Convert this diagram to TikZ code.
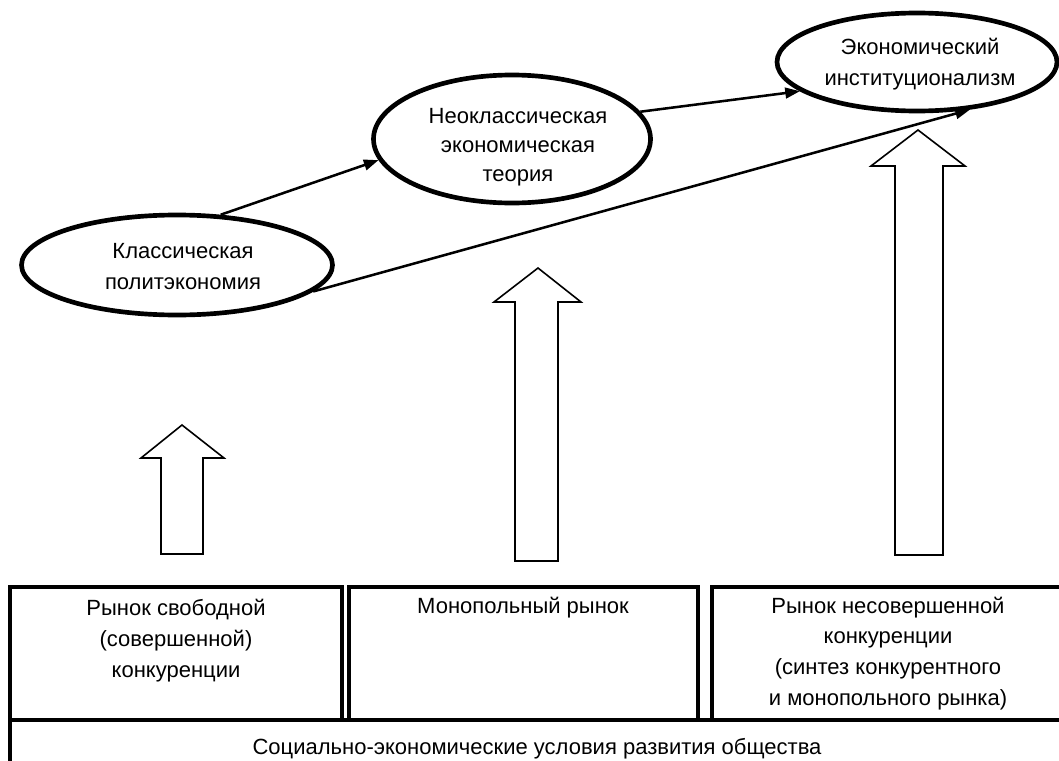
\documentclass[tikz,border=0pt]{standalone}
\usepackage{fontspec}
\setmainfont{Liberation Sans}
\usetikzlibrary{shapes.geometric,arrows.meta}
\begin{document}
\begin{tikzpicture}[x=0.75pt,y=-0.75pt,
  txtfont/.style={font=\fontsize{16.5}{23}\selectfont},
  oval/.style={draw, ellipse, line width=3.5pt, inner sep=0pt},
  ovaltext/.style={align=center, txtfont, anchor=base, inner sep=0pt},
  link/.style={line width=1.9pt, -{Triangle[length=11pt,width=8pt]}},
  blockarrow/.style={draw, line width=1.2pt, fill=white, line join=miter},
  market/.style={draw, line width=3.6pt, rectangle, inner sep=0pt},
  boxtext/.style={align=center, txtfont, anchor=base, inner sep=0pt}
]
\useasboundingbox (0,0) rectangle (1059,760);
\clip (0,0) rectangle (1059,760);

% bottom strip and market boxes
\node[market, minimum width=1070*0.75pt, minimum height=60*0.75pt] (base) at (545,750) {};
\node[market, minimum width=332*0.75pt, minimum height=133*0.75pt] (b1) at (176,653.5) {};
\node[market, minimum width=349*0.75pt, minimum height=133*0.75pt] (b2) at (523.5,653.5) {};
\node[market, minimum width=352*0.75pt, minimum height=133*0.75pt] (b3) at (888,653.5) {};

% texts (anchor = baseline of last line)
\node[boxtext] (t1) at (176,677) {Рынок свободной\\(совершенной)\\конкуренции};
\node[boxtext] (t2) at (523,613) {Монопольный рынок};
\node[boxtext] (t3) at (888,705) {Рынок несовершенной\\конкуренции\\(синтез конкурентного\\и монопольного рынка)};
\node[boxtext] (t4) at (537,754) {Социально-экономические условия развития общества};

% block arrows
\draw[blockarrow] (161,554) -- (161,458) -- (141,458) -- (182,425) -- (224,458) -- (203,458) -- (203,554) -- cycle;
\draw[blockarrow] (515,561) -- (515,302) -- (494,302) -- (538,268) -- (581,302) -- (558,302) -- (558,561) -- cycle;
\draw[blockarrow] (895,555) -- (895,166) -- (871,166) -- (918,130) -- (965,166) -- (943,166) -- (943,555) -- cycle;

% ellipses
\node[oval, minimum width=311*0.75pt, minimum height=100*0.75pt] (e1) at (177,265) {};
\node[oval, minimum width=277*0.75pt, minimum height=128*0.75pt] (e2) at (512,139) {};
\node[oval, minimum width=280*0.75pt, minimum height=98*0.75pt] (e3) at (917,62) {};
\node[ovaltext] (e1t) at (183,289) {Классическая\\политэкономия};
\node[ovaltext, font=\fontsize{16.5}{21.5}\selectfont] (e2t) at (518,181) {Неоклассическая\\экономическая\\теория};
\node[ovaltext] (e3t) at (920,85) {Экономический\\институционализм};

% connectors
\draw[link] (e1.49) -- (e2.189);
\draw[link] (e2.12) -- (e3.194);
\draw[link] (e1.-11) -- (e3.-42);
\end{tikzpicture}
\end{document}
